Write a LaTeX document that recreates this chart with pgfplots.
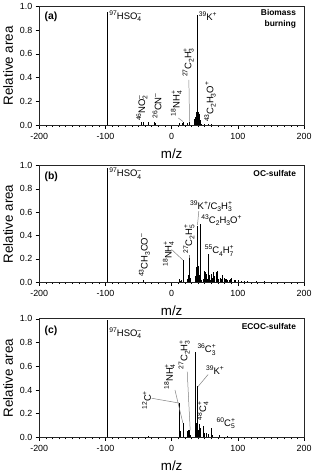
\documentclass[border=0pt]{standalone}
\usepackage{fontspec}
\setmainfont{Liberation Sans}
\usepackage{pgfplots}
\pgfplotsset{compat=1.18}

% small raised / lowered text for ion labels
\newcommand{\up}[1]{\raisebox{0.8ex}{\fontsize{6.8}{7}\selectfont #1}}
\newcommand{\dn}[1]{\raisebox{-0.45ex}{\fontsize{6.8}{7}\selectfont #1}}
\newcommand{\ud}[2]{\rlap{\dn{#1}}\up{#2}}
\newcommand{\mi}{\textendash}
\newcommand{\lf}{\fontsize{9.6}{10}\selectfont}

\pgfplotsset{
  msaxis/.style={
    scale only axis, width=268pt,
    xmin=-200, xmax=200, ymin=0, ymax=1,
    xtick={-200,-100,0,100,200}, xticklabels={-200,-100,0,100,200},
    ytick={0,0.2,0.4,0.6,0.8,1}, yticklabels={0.0,0.2,0.4,0.6,0.8,1.0},
    minor x tick num=9,
    tick align=outside, xtick pos=left, ytick pos=left,
    major tick length=3.5pt, minor tick length=2pt,
    tick style={line width=0.6pt, black},
    axis line style={line width=0.7pt, black!85},
    xlabel={m/z}, ylabel={Relative area},
    label style={font=\fontsize{13.5}{14}\selectfont},
    xlabel style={yshift=-2.5pt},
    tick label style={font=\fontsize{9}{10}\selectfont},
    xticklabel style={yshift=-1pt},
    /pgf/number format/assume math mode=true,
    anchor=north west,
  },
  spec/.style={ycomb, black, line width=0.9pt, mark=none},
}
\tikzset{
  lab/.style={font=\lf, inner sep=0.5pt},
  rlab/.style={lab, rotate=90, anchor=west},
  lead/.style={gray, line width=0.5pt},
  ptag/.style={anchor=west, inner sep=0pt, font=\bfseries\fontsize{10.5}{11}\selectfont},
  ptype/.style={anchor=north east, align=right, inner sep=0pt, font=\bfseries\fontsize{8.5}{10.5}\selectfont},
}

\begin{document}
\begin{tikzpicture}
% ---------------- (a) Biomass burning
\begin{axis}[msaxis, at={(44pt,-4pt)}, height=120pt]
\addplot[spec] coordinates {
 (-97,0.955) (-46,0.03) (-42,0.03) (-35,0.03) (-26,0.03) (-24,0.02)
 (12,0.02) (16,0.02) (18,0.03) (24,0.02) (27,0.03)
 (35,0.05) (36,0.07) (37,0.08) (38,0.11) (39,0.925) (40,0.11) (41,0.11) (42,0.09) (43,0.04)
 (45,0.01) (50,0.01) (55,0.01) (60,0.01)
};
\node[ptag] at (axis cs:-192,0.91) {(a)};
\node[ptype] at (axis cs:188,0.975) {Biomass\\burning};
\node[lab, anchor=west] at (axis cs:-95,0.92) {\up{97}HSO\ud{4}{\mi}};
\node[lab, anchor=west] at (axis cs:40,0.92) {\up{39}K\up{+}};
\node[rlab] at (axis cs:-45,0.03) {\up{46}NO\ud{2}{\mi}};
\node[rlab] at (axis cs:-22,0.05) {\up{26}CN\up{\mi}};
\node[rlab] at (axis cs:7,0.07) {\up{18}NH\ud{4}{+}};
\node[rlab] at (axis cs:25,0.40) {\up{27}C\dn{2}H\ud{3}{+}};
\node[rlab] at (axis cs:58,0.02) {\up{43}C\dn{2}H\dn{3}O\up{+}};
\draw[lead] (axis cs:10,0.06) -- (axis cs:17,0.03);
\draw[lead] (axis cs:26,0.38) -- (axis cs:27,0.03);
\end{axis}

% ---------------- (b) OC-sulfate
\begin{axis}[msaxis, at={(44pt,-165pt)}, height=118pt]
\addplot[spec] coordinates {
 (-97,0.98) (-43,0.02) (12,0.03) (13,0.01) (15,0.02) (18,0.19)
 (24,0.03) (25,0.02) (26,0.06) (27,0.21) (29,0.04)
 (36,0.05) (37,0.13) (38,0.07) (39,0.48) (40,0.04) (41,0.14) (42,0.06) (43,0.50) (44,0.03) (45,0.02)
 (48,0.03) (50,0.10) (51,0.09) (52,0.03) (53,0.07) (54,0.03) (55,0.24) (56,0.04) (57,0.06) (58,0.02)
 (60,0.07) (61,0.03) (62,0.04) (63,0.09) (65,0.05) (67,0.09) (69,0.10) (71,0.03) (73,0.02) (74,0.04)
 (75,0.03) (77,0.06) (79,0.04) (81,0.03) (83,0.03) (85,0.02) (87,0.02) (89,0.03) (91,0.04) (95,0.02)
 (97,0.02) (101,0.02) (105,0.01) (110,0.01) (115,0.01) (128,0.01) (140,0.01)
};
\node[ptag] at (axis cs:-192,0.90) {(b)};
\node[ptype] at (axis cs:188,0.96) {OC-sulfate};
\node[lab, anchor=west] at (axis cs:-95,0.93) {\up{97}HSO\ud{4}{\mi}};
\node[rlab] at (axis cs:-41,0.04) {\up{43}CH\dn{3}CO\up{\mi}};
\node[rlab] at (axis cs:-5,0.13) {\up{18}NH\ud{4}{+}};
\node[rlab] at (axis cs:26,0.24) {\up{27}C\dn{2}H\ud{5}{+}};
\node[lab, anchor=west] at (axis cs:27,0.65) {\up{39}K\up{+}/C\dn{3}H\ud{3}{+}};
\node[lab, anchor=west] at (axis cs:44,0.53) {\up{43}C\dn{2}H\dn{3}O\up{+}};
\node[lab, anchor=west] at (axis cs:49,0.27) {\up{55}C\dn{4}H\ud{7}{+}};
\draw[lead] (axis cs:0,0.28) -- (axis cs:17,0.19);
\draw[lead] (axis cs:27,0.23) -- (axis cs:27,0.21);
\draw[lead] (axis cs:41,0.61) -- (axis cs:39,0.49);
\end{axis}

% ---------------- (c) ECOC-sulfate
\begin{axis}[msaxis, at={(44pt,-320pt)}, height=120pt]
\addplot[spec] coordinates {
 (-97,0.99) (-35,0.01) (12,0.29) (13,0.05) (14,0.02) (18,0.12)
 (24,0.05) (25,0.06) (26,0.05) (27,0.06) (29,0.02)
 (36,0.72) (37,0.12) (38,0.11) (39,0.43) (40,0.05) (41,0.06) (42,0.11) (43,0.04) (44,0.08)
 (48,0.10) (49,0.03) (50,0.04) (52,0.04) (55,0.02) (56,0.03) (60,0.08) (61,0.02) (72,0.02) (84,0.01)
};
\node[ptag] at (axis cs:-192,0.90) {(c)};
\node[ptype] at (axis cs:188,0.96) {ECOC-sulfate};
\node[lab, anchor=west] at (axis cs:-95,0.88) {\up{97}HSO\ud{4}{\mi}};
\node[rlab] at (axis cs:-38,0.23) {\up{12}C\up{+}};
\node[rlab] at (axis cs:-3,0.40) {\up{18}NH\ud{4}{+}};
\node[rlab] at (axis cs:19,0.57) {\up{27}C\dn{2}H\ud{3}{+}};
\node[lab, anchor=west] at (axis cs:38,0.74) {\up{36}C\ud{3}{+}};
\node[lab, anchor=west] at (axis cs:51,0.57) {\up{39}K\up{+}};
\node[rlab] at (axis cs:47,0.14) {\up{48}C\ud{4}{+}};
\node[lab, anchor=west] at (axis cs:67,0.12) {\up{60}C\ud{5}{+}};
\draw[lead] (axis cs:-30,0.33) -- (axis cs:11,0.29);
\draw[lead] (axis cs:5,0.40) -- (axis cs:17,0.12);
\draw[lead] (axis cs:23.5,0.555) -- (axis cs:28,0.06);
\draw[lead] (axis cs:55,0.53) -- (axis cs:40,0.43);
\end{axis}
\end{tikzpicture}
\end{document}
